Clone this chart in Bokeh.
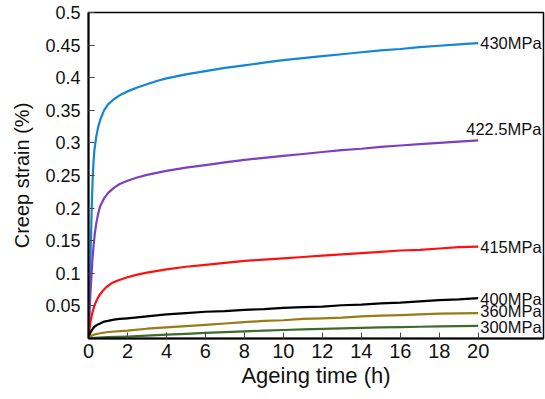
from bokeh.plotting import figure
from bokeh.models import FixedTicker, ColumnDataSource
from bokeh.core.properties import value
from bokeh.embed import file_html
from bokeh.resources import INLINE

# ---- data ----
t_430 = [0, 0.03, 0.06, 0.1, 0.14, 0.18, 0.22, 0.26, 0.3, 0.4, 0.5, 0.62, 0.8, 1.0, 1.3, 1.6, 2, 2.5, 3, 3.5, 4,
         5, 6, 7, 8, 9, 10, 11, 12, 13, 14, 15, 16, 17, 18, 19, 20]
v_430 = [0, 0.03, 0.07, 0.12, 0.17, 0.215, 0.25, 0.272, 0.288, 0.310, 0.325, 0.337, 0.350, 0.359, 0.367, 0.373, 0.379,
         0.385, 0.390, 0.395, 0.399, 0.405, 0.410, 0.415, 0.419, 0.423, 0.427, 0.430, 0.433, 0.436, 0.439, 0.442,
         0.444, 0.447, 0.449, 0.451, 0.453]

t_4225 = [0, 0.03, 0.06, 0.1, 0.15, 0.2, 0.26, 0.32, 0.4, 0.5, 0.6, 0.8, 1.0, 1.3, 1.6, 2, 2.5, 3, 4, 5, 6, 7, 8,
          9, 10, 11, 12, 13, 14, 15, 16, 17, 18, 19, 20]
v_4225 = [0, 0.02, 0.045, 0.07, 0.095, 0.12, 0.142, 0.160, 0.177, 0.192, 0.203, 0.215, 0.223, 0.231, 0.237, 0.242,
          0.247, 0.251, 0.257, 0.262, 0.266, 0.270, 0.274, 0.277, 0.280, 0.283, 0.286, 0.289, 0.291, 0.294, 0.296,
          0.298, 0.300, 0.302, 0.304]

t_415 = [0, 0.03, 0.06, 0.1, 0.15, 0.2, 0.3, 0.41, 0.55, 0.7, 0.92, 1.2, 1.5, 2, 2.5, 3, 4, 5, 6, 7, 8, 9, 10,
         11, 12, 13, 14, 15, 16, 17, 18, 19, 20]
v_415 = [0, 0.008, 0.016, 0.025, 0.033, 0.040, 0.050, 0.058, 0.066, 0.072, 0.079, 0.085, 0.089, 0.094, 0.098, 0.101,
         0.106, 0.110, 0.113, 0.116, 0.119, 0.121, 0.123, 0.125, 0.127, 0.129, 0.131, 0.133, 0.135, 0.136, 0.138,
         0.140, 0.141]

t_400 = [0, 0.05, 0.1, 0.2, 0.3, 0.45, 0.6, 0.8, 1.0, 1.3, 1.6, 2, 3, 4, 5, 6, 7, 8, 9, 10, 11, 12, 13, 14, 15,
         16, 17, 18, 19, 20]
v_400 = [0, 0.005, 0.009, 0.014, 0.018, 0.021, 0.023, 0.026, 0.027, 0.029, 0.030, 0.031, 0.034, 0.037, 0.039, 0.041,
         0.042, 0.044, 0.045, 0.047, 0.048, 0.049, 0.051, 0.052, 0.054, 0.055, 0.057, 0.059, 0.060, 0.062]

t_360 = [0, 0.1, 0.27, 0.6, 1, 2, 3, 4, 5, 6, 7, 8, 9, 10, 11, 12, 13, 14, 15, 16, 17, 18, 19, 20]
v_360 = [0, 0.003, 0.006, 0.008, 0.010, 0.012, 0.015, 0.017, 0.019, 0.021, 0.023, 0.025, 0.027, 0.028, 0.030, 0.031,
         0.032, 0.034, 0.035, 0.036, 0.037, 0.038, 0.0385, 0.039]

t_300 = [0, 0.3, 1, 2, 3, 4, 5, 6, 7, 8, 9, 10, 11, 12, 13, 14, 15, 16, 17, 18, 19, 20]
v_300 = [0, 0.001, 0.002, 0.003, 0.0045, 0.006, 0.007, 0.0085, 0.0097, 0.011, 0.012, 0.013, 0.014, 0.0148, 0.0155,
         0.0162, 0.017, 0.0175, 0.018, 0.0187, 0.019, 0.0195]

series_labels = ["430MPa", "422.5MPa", "415MPa", "400MPa", "360MPa", "300MPa"]
series_colors = ["#1286d6", "#7d3fc0", "#ff1010", "#000000", "#9a7b12", "#3f6b2c"]

x_ticks = [0, 2, 4, 6, 8, 10, 12, 14, 16, 18, 20]
x_tick_labels = ["0", "2", "4", "6", "8", "10", "12", "14", "16", "18", "20"]
y_ticks = [0.05, 0.1, 0.15, 0.2, 0.25, 0.3, 0.35, 0.4, 0.45, 0.5]
y_tick_labels = ["0.05", "0.1", "0.15", "0.2", "0.25", "0.3", "0.35", "0.4", "0.45", "0.5"]

FONT = "Liberation Sans"

p = figure(width=545, height=399, x_range=(0, 23.35), y_range=(0, 0.5),
           output_backend="svg", toolbar_location=None,
           min_border_left=88, min_border_right=2, min_border_top=12, min_border_bottom=61)

p.grid.visible = False
p.outline_line_color = "black"
p.outline_line_width = 1.5
p.background_fill_color = "white"
p.border_fill_color = "white"

p.xaxis.ticker = FixedTicker(ticks=x_ticks)
p.xaxis.major_label_overrides = {t: s for t, s in zip(x_ticks, x_tick_labels)}
p.yaxis.ticker = FixedTicker(ticks=y_ticks)
p.yaxis.major_label_overrides = {t: s for t, s in zip(y_ticks, y_tick_labels)}

for ax in (p.xaxis[0], p.yaxis[0]):
    ax.axis_line_width = 2
    ax.axis_line_color = "black"
    ax.major_tick_in = 6
    ax.major_tick_out = 0
    ax.major_tick_line_color = "#444444"
    ax.minor_tick_line_color = None
    ax.major_label_text_font = FONT
    ax.axis_label_text_font = FONT
    ax.axis_label_text_font_style = "normal"
    ax.axis_label_text_color = "#111111"
    ax.major_label_text_color = "#111111"

p.xaxis.axis_label = "Ageing time (h)"
p.xaxis.major_label_text_font_size = "20px"
p.xaxis.axis_label_text_font_size = "22px"
p.xaxis.major_label_standoff = 5
p.xaxis.axis_label_standoff = 2

p.yaxis.axis_label = "Creep strain (%)"
p.yaxis.major_label_text_font_size = "18px"
p.yaxis.axis_label_text_font_size = "20px"
p.yaxis.major_label_standoff = 8
p.yaxis.axis_label_standoff = 9

all_t = [t_430, t_4225, t_415, t_400, t_360, t_300]
all_v = [v_430, v_4225, v_415, v_400, v_360, v_300]

for t, v, c in zip(all_t, all_v, series_colors):
    p.line(t, v, line_color=c, line_width=2.2, line_join="round")

x_off = [2, -12, 2, 2, 2, 2]
y_off = [0, -11, 0, 1, -2, 1.5]
for t, v, lab, xo, yo in zip(all_t, all_v, series_labels, x_off, y_off):
    src = ColumnDataSource(dict(x=[t[-1]], y=[v[-1]], text=[lab]))
    p.text(x="x", y="y", text="text", source=src, x_offset=xo, y_offset=yo,
           text_font=value(FONT), text_font_size="16.5px", text_color="#111111",
           text_baseline="middle", text_align="left")

open("out.html", "w").write(file_html(p, INLINE))
